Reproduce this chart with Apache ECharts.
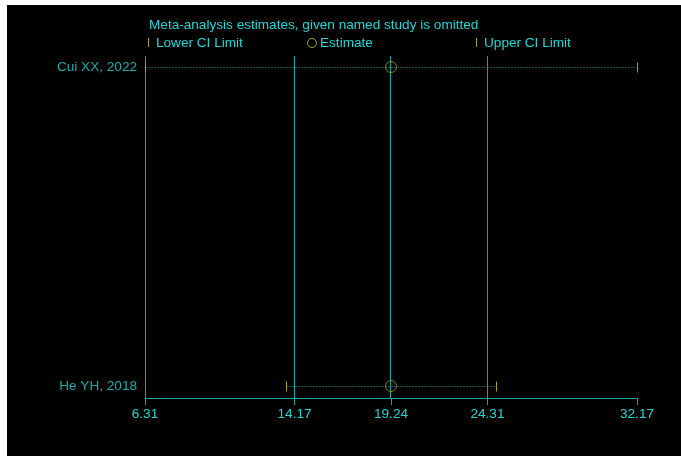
<!DOCTYPE html>
<html>
<head>
<meta charset="utf-8">
<script src="https://cdn.jsdelivr.net/npm/echarts@6/dist/echarts.min.js"></script>
<style>
  html, body { margin: 0; padding: 0; background: #ffffff; }
  #chart { position: absolute; left: 7px; top: 5px; width: 674px; height: 451px; background: #000000; }
</style>
</head>
<body>
<div id="chart"></div>
<script>
// Leave-one-out sensitivity analysis: pooled estimate with each study omitted
const studies = ['He YH, 2018', 'Cui XX, 2022'];
const lowerCI = [13.74, 6.31];
const estimate = [19.24, 19.24];
const upperCI = [24.78, 32.17];
const tickValues = [6.31, 14.17, 19.24, 24.31, 32.17];
const refLines = [6.31, 14.17, 19.24, 24.31];

const CYAN = '#20d6d6';
const TEAL = '#14a5a5';
const OLIVE = '#aaa21e';
const FONT = '13.6px Liberation Sans, Arial, sans-serif';
const xMin = 6.31, xMax = 32.17;

// snap to pixel centres so 1px strokes stay crisp
const snap = v => Math.round(v - 0.5) + 0.5;

const chart = echarts.init(document.getElementById('chart'));

const rows = studies.map((s, i) => i);

chart.setOption({
  backgroundColor: '#000000',
  animation: false,
  textStyle: { fontFamily: 'Liberation Sans, Arial, sans-serif' },
  graphic: [
    { type: 'text', left: 142, top: 13, style: { text: 'Meta-analysis estimates, given named study is omitted', fill: CYAN, font: FONT } },
    { type: 'line', shape: { x1: 141.5, y1: 33, x2: 141.5, y2: 42 }, style: { stroke: OLIVE, lineWidth: 1 } },
    { type: 'text', left: 149, top: 31, style: { text: 'Lower CI Limit', fill: CYAN, font: FONT } },
    { type: 'circle', shape: { cx: 305, cy: 38, r: 4.5 }, style: { stroke: OLIVE, fill: 'none', lineWidth: 1 } },
    { type: 'text', left: 313, top: 31, style: { text: 'Estimate', fill: CYAN, font: FONT } },
    { type: 'line', shape: { x1: 469.5, y1: 33, x2: 469.5, y2: 42 }, style: { stroke: OLIVE, lineWidth: 1 } },
    { type: 'text', left: 477, top: 31, style: { text: 'Upper CI Limit', fill: CYAN, font: FONT } }
  ],
  grid: { left: 138, right: 44, top: 51, bottom: 58, containLabel: false },
  xAxis: {
    type: 'value', min: xMin, max: xMax,
    axisLine: { show: true, onZero: false, lineStyle: { color: TEAL, width: 1 } },
    axisTick: { show: true, length: 7, lineStyle: { color: TEAL }, customValues: tickValues },
    axisLabel: { color: CYAN, fontSize: 13.6, margin: 9, customValues: tickValues,
      formatter: v => v.toFixed(2) },
    splitLine: { show: false }
  },
  yAxis: {
    type: 'value', min: -0.0376, max: 1.0345,
    axisLine: { show: false }, axisTick: { show: false }, axisLabel: { show: false },
    splitLine: { show: false }
  },
  series: [
    {
      // vertical reference lines across the full plot height
      type: 'custom',
      renderItem: (params, api) => {
        const x = snap(api.coord([api.value(0), 0])[0]);
        const cs = params.coordSys;
        return {
          type: 'line',
          shape: { x1: x, y1: cs.y, x2: x, y2: cs.y + cs.height },
          style: { stroke: TEAL, lineWidth: 1 }
        };
      },
      data: refLines.map(v => [v]),
      encode: { x: 0 },
      silent: true,
      z: 2
    },
    {
      // dotted CI spans with end caps
      type: 'custom',
      renderItem: (params, api) => {
        const y = api.value(0);
        const p1 = api.coord([api.value(1), y]);
        const p2 = api.coord([api.value(2), y]);
        const yy = snap(p1[1]);
        const x1 = snap(p1[0]), x2 = snap(p2[0]);
        return {
          type: 'group',
          children: [
            { type: 'line', shape: { x1: x1, y1: yy, x2: x2, y2: yy },
              style: { stroke: TEAL, lineWidth: 1, lineDash: [1, 2] } },
            { type: 'line', shape: { x1: x1, y1: yy - 5, x2: x1, y2: yy + 5 },
              style: { stroke: OLIVE, lineWidth: 1 } },
            { type: 'line', shape: { x1: x2, y1: yy - 5, x2: x2, y2: yy + 5 },
              style: { stroke: OLIVE, lineWidth: 1 } }
          ]
        };
      },
      data: rows.map(i => [i, lowerCI[i], upperCI[i]]),
      encode: { x: [1, 2], y: 0 },
      silent: true,
      z: 3
    },
    {
      type: 'scatter',
      symbol: 'circle', symbolSize: 11,
      itemStyle: { color: 'transparent', borderColor: OLIVE, borderWidth: 1 },
      data: rows.map(i => [estimate[i], i]),
      silent: true,
      z: 4
    },
    {
      // study names to the left of the plot
      type: 'scatter',
      symbolSize: 0,
      data: rows.map(i => ({ value: [xMin, i], name: studies[i] })),
      label: { show: true, position: 'left', distance: 8, color: CYAN, fontSize: 13.6,
        formatter: p => p.name },
      silent: true,
      z: 5
    }
  ]
});
</script>
</body>
</html>
